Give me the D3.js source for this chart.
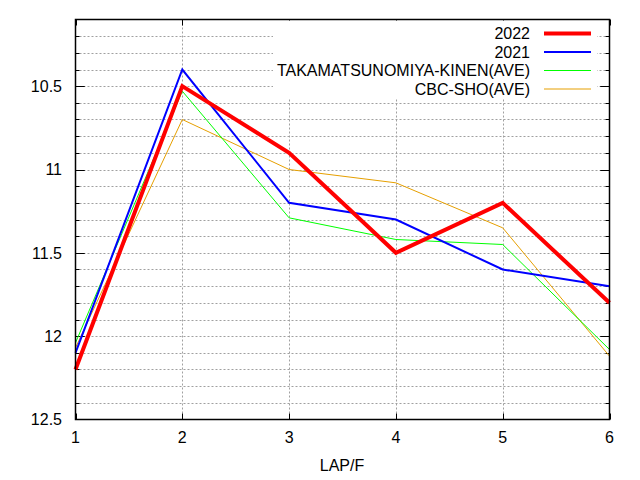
<!DOCTYPE html>
<html lang="en">
<head>
  <meta charset="UTF-8">
  <title>LAP/F</title>
  <style>
    body { margin: 0; background: #fff; }
    text { font-family: "Liberation Sans", Arial, sans-serif; font-size: 16px; fill: #000; }
    .grid line { stroke: #a0a0a0; stroke-width: 1; stroke-dasharray: 2,2; }
  </style>
</head>
<body>
  <div class="warp"></div>
  <script src="https://cdn.jsdelivr.net/npm/d3@7"></script>
  <script>
    // lap numbers (furlongs)
    var laps = [1, 2, 3, 4, 5, 6];
    var names = ['2022', '2021', 'TAKAMATSUNOMIYA-KINEN(AVE)', 'CBC-SHO(AVE)'];
    var lap2022 = [12.2, 10.5, 10.9, 11.5, 11.2, 11.8];
    var lap2021 = [12.1, 10.4, 11.2, 11.3, 11.6, 11.7];
    var takaAve = [12.04, 10.53, 11.29, 11.42, 11.45, 12.08];
    var cbcAve = [12.07, 10.7, 11.0, 11.08, 11.35, 12.12];
    var yTicks = [10.5, 11, 11.5, 12, 12.5];

    var colors = ['#ff0000', '#0000ff', '#00ff00', '#e69f00'];
    var widths = [4, 2, 1, 1];
    var series = [lap2022, lap2021, takaAve, cbcAve];

    var width = 640, height = 480;
    // plot frame (window.top is taken, so prefixed names)
    var pLeft = 75.5, pRight = 609.5, pTop = 19.5, pBottom = 419.5;

    var svg = d3.select('.warp').append('svg')
      .attr('width', width)
      .attr('height', height);

    var x = d3.scaleLinear().domain([1, 6]).range([pLeft, pRight]);
    var y = d3.scaleLinear().domain([10.1, 12.5]).range([pTop, pBottom]);

    // minor steps of 0.1 between the top and bottom
    var minor = d3.range(102, 125).map(function (d) { return d / 10; });

    var grid = svg.append('g').classed('grid', true);
    grid.selectAll('line.h')
      .data(minor)
      .enter()
      .append('line')
      .attr('x1', pLeft).attr('x2', pRight)
      .attr('y1', function (d) { return Math.round(y(d)) + 0.5; })
      .attr('y2', function (d) { return Math.round(y(d)) + 0.5; });
    grid.selectAll('line.v')
      .data(laps.slice(1, 5))
      .enter()
      .append('line')
      .attr('y1', pTop).attr('y2', pBottom)
      .attr('x1', function (d) { return Math.round(x(d)) + 0.5; })
      .attr('x2', function (d) { return Math.round(x(d)) + 0.5; });

    // ticks, drawn inward on all four sides
    var ticks = svg.append('g').attr('stroke', '#000').attr('stroke-width', 1);
    minor.concat(yTicks.slice(0, 4)).forEach(function (d) {
      var major = yTicks.indexOf(d) >= 0;
      var len = major ? 9 : 4;
      var yy = Math.round(y(d)) + 0.5;
      ticks.append('line').attr('x1', pLeft).attr('x2', pLeft + len).attr('y1', yy).attr('y2', yy);
      ticks.append('line').attr('x1', pRight - len).attr('x2', pRight).attr('y1', yy).attr('y2', yy);
    });
    laps.forEach(function (d) {
      var xx = Math.round(x(d)) + 0.5;
      ticks.append('line').attr('x1', xx).attr('x2', xx).attr('y1', pBottom).attr('y2', pBottom - 6);
      ticks.append('line').attr('x1', xx).attr('x2', xx).attr('y1', pTop).attr('y2', pTop + 6);
    });

    // key box covers the grid
    var key = svg.append('g');
    key.append('rect')
      .attr('x', 273).attr('y', pTop + 1)
      .attr('width', 324).attr('height', 78)
      .attr('fill', '#fff');
    names.forEach(function (n, i) {
      var ky = 33.5 + i * 18.5;
      key.append('text')
        .attr('x', 530).attr('y', ky)
        .attr('dy', '0.35em')
        .attr('text-anchor', 'end')
        .text(n);
      key.append('line')
        .attr('x1', 544).attr('x2', 591)
        .attr('y1', ky).attr('y2', ky)
        .attr('stroke', colors[i])
        .attr('stroke-width', widths[i]);
    });

    var line = d3.line()
      .x(function (d, i) { return x(laps[i]); })
      .y(function (d) { return y(d); });

    // draw the thin ones first so 2022 sits on top
    [3, 2, 1, 0].forEach(function (i) {
      svg.append('path')
        .datum(series[i])
        .attr('d', line)
        .attr('fill', 'none')
        .attr('stroke', colors[i])
        .attr('stroke-width', widths[i]);
    });

    svg.append('rect')
      .attr('x', pLeft).attr('y', pTop)
      .attr('width', pRight - pLeft).attr('height', pBottom - pTop)
      .attr('fill', 'none')
      .attr('stroke', '#000')
      .attr('stroke-width', 1.5);

    svg.append('g').selectAll('text')
      .data(yTicks)
      .enter()
      .append('text')
      .attr('x', 62)
      .attr('y', function (d) { return y(d); })
      .attr('dy', '0.36em')
      .attr('text-anchor', 'end')
      .text(function (d) { return d; });

    svg.append('g').selectAll('text')
      .data(laps)
      .enter()
      .append('text')
      .attr('x', function (d) { return x(d); })
      .attr('y', 443)
      .attr('text-anchor', 'middle')
      .text(function (d) { return d; });

    svg.append('text')
      .attr('x', 342).attr('y', 471)
      .attr('text-anchor', 'middle')
      .text('LAP/F');
  </script>
</body>
</html>
